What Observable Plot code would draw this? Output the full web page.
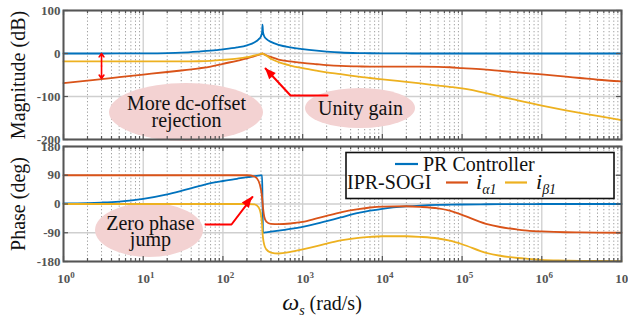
<!DOCTYPE html>
<html><head><meta charset="utf-8">
<script src="https://cdn.jsdelivr.net/npm/d3@7"></script>
<script src="https://cdn.jsdelivr.net/npm/@observablehq/plot@0.6"></script>
<style>
body{margin:0;background:#fff;}
#chart svg{display:block;font-family:'Liberation Serif','Times New Roman',serif;}
#chart svg text, #chart svg tspan{font-family:'Liberation Serif','Times New Roman',serif !important;}
</style></head><body><div id="chart"></div>
<script>
// ---------- data ----------
const freq = [1,2,3,5, 10,20,30,50,70, 100,150,200,250,280,300,310,314,318,330,350,400,500,700,
  1000,1500,2000,3000,5000,7000, 1e4,2e4,3e4,5e4,7e4, 1e5,2e5,3e5,5e5,7e5, 1e6,2e6,3e6,5e6, 1e7];

const magPR = [0,0,0,0.1, 0.3,1,2,4.5,6.5, 9.5,14,19,26,33,40,50,67,50,40,34,27,20,14,
  10,6.5,4.5,2.3,1,0.6, 0.3,0.1,0,0,0, 0,0,0,0,0, 0,0,0,0, 0];
const magA = [-69,-63,-59.5,-55, -49,-43,-39.5,-34.5,-30.5, -24,-17,-11.5,-6,-3.5,-1.5,-0.5,0,-0.7,-2,-4,-8,-14,-18.5,
  -22,-25,-27,-29,-30,-30.5, -30.5,-30.5,-30.5,-31,-32, -34,-37.5,-40.5,-44,-46, -48.5,-54,-57,-61, -65];
const magB = [-18.5,-18.5,-18.5,-18.5, -18.5,-18.5,-18.5,-18,-17, -15,-12,-8.5,-4.5,-2.5,-1,-0.3,0,-0.8,-2.5,-5,-12,-20,-28,
  -34,-40,-44,-48,-54,-57, -60,-66,-69.5,-74.5,-77.5, -81,-92,-100,-109,-115, -121,-132,-138,-145, -155];

const phPR = [1.5,3,4.6,7.7, 16,30,41,56,65, 72,79,84,87,88.5,89.4,89.8,0,-89.8,-89.3,-88.5,-86.7,-83.5,-78,
  -71.3,-61.7,-53.7,-42,-28,-21, -15,-7.6,-5,-3,-2.2, -1.5,-0.8,-0.5,-0.3,-0.2, 0,0,0,0, 0];
const phA = [90,90,90,90, 90,90,90,90,90, 90,90,90,86,72,45,20,5,-10,-40,-55,-62,-63,-61,
  -56,-45,-37,-26,-16,-11, -8,-7,-9,-14,-21, -34,-62,-72,-80,-84, -86,-88.5,-89,-89.5, -90];
const phB = [0,0,0,0, 0,0,0,0,0, 0,0,0,-1,-10,-35,-65,-90,-105,-128,-142,-152,-155,-150,
  -142,-132,-124,-114,-106,-103, -101,-101,-103,-108,-115, -126,-153,-162,-169,-172, -175,-177,-178,-178.5, -179];

const seriesNames = ["PR Controller", "i\u03b11", "i\u03b21"];
const colors = ["#0072BD", "#D95319", "#EDB120"];

const decades = [1,10,100,1e3,1e4,1e5,1e6,1e7];
const magTicks = [-200,-100,0,100];
const phaseTicks = [-180,-90,0,90,180];

// ---------- helpers ----------
const serif = "Liberation Serif, Times New Roman, serif";
const minors = [];
for (let d = 0; d < 7; d++) for (let m = 2; m <= 9; m++) minors.push(m * 10 ** d);
const rows = ys => freq.map((f, i) => ({f, v: ys[i]}));
const W = 628, ML = 63, MR = 7;
const frameW = W - ML - MR;

function baseMarks(yTicks, series) {
  return [
    Plot.ruleX(minors, {x: d => d, stroke: "#a0a0a0", strokeWidth: 1, strokeDasharray: "1.3,2.2"}),
    Plot.ruleX(decades, {x: d => d, stroke: "#cfcfcf", strokeWidth: 1.3}),
    Plot.ruleY(yTicks, {y: d => d, stroke: "#cfcfcf", strokeWidth: 1.3}),
    ...series.map((ys, k) => Plot.line(rows(ys), {x: "f", y: "v", stroke: colors[k], strokeWidth: 1.8, curve: "monotone-x"}))
  ];
}
function frameMarks(yTicks, frameH) {
  const tk = {stroke: "#555", strokeWidth: 1.2};
  return [
    Plot.tickX(decades, {x: d => d, insetBottom: frameH - 5, ...tk}),
    Plot.tickX(decades, {x: d => d, insetTop: frameH - 5, ...tk}),
    Plot.tickX(minors, {x: d => d, insetBottom: frameH - 3, ...tk}),
    Plot.tickX(minors, {x: d => d, insetTop: frameH - 3, ...tk}),
    Plot.tickY(yTicks, {y: d => d, insetRight: frameW - 5, ...tk}),
    Plot.tickY(yTicks, {y: d => d, insetLeft: frameW - 5, ...tk}),
    Plot.frame({stroke: "#555", strokeWidth: 2}),
    Plot.axisY({ticks: yTicks, tickSize: 0, tickPadding: 3, tickFormat: d => String(d),
      fontSize: 13, fontWeight: "bold", fontFamily: serif, color: "#555", label: null})
  ];
}
function setFont(plot) {
  plot.setAttribute("font-family", serif);
  plot.style.setProperty("font-family", serif);
}
function addEllipses(plot, list) {
  const sx = plot.scale("x"), sy = plot.scale("y");
  const before = plot.querySelector('g[aria-label="line"]');
  const g = document.createElementNS("http://www.w3.org/2000/svg", "g");
  plot.insertBefore(g, before);
  for (const e of list) d3.select(g).append("ellipse")
    .attr("cx", sx.apply(e.x)).attr("cy", sy.apply(e.y))
    .attr("rx", e.rx).attr("ry", e.ry).attr("fill", "#f3d2d2");
}
function addHead(plot, from, to) {
  const sx = plot.scale("x"), sy = plot.scale("y");
  const x1 = sx.apply(from[0]), y1 = sy.apply(from[1]);
  const x2 = sx.apply(to[0]), y2 = sy.apply(to[1]);
  const L = Math.hypot(x2 - x1, y2 - y1), ux = (x2 - x1) / L, uy = (y2 - y1) / L;
  const len = 11, hw = 4.5;
  const bx = x2 - ux * len, by = y2 - uy * len;
  d3.select(plot).append("polygon")
    .attr("points", [[x2, y2], [bx - uy * hw, by + ux * hw], [bx + uy * hw, by - ux * hw]].map(p => p.join(",")).join(" "))
    .attr("fill", "red");
}

// ---------- annotations (data coordinates) ----------
const unityPath = [[2053, -97.7], [705, -97.7], [342, -35]];
const zeroPath = [[60.5, -64.2], [128, -64.2], [235, 22]];
const dcArrows = [{x: 3, y1: -29, y2: 0}, {x: 3, y1: -29, y2: -58}];
const txt = {fontSize: 20, fontFamily: serif, fill: "#111"};

// ---------- top: magnitude ----------
const topH = 142, topMT = 10, topMB = 3, topFH = topH - topMT - topMB;
const magPlot = Plot.plot({
  width: W, height: topH, marginLeft: ML, marginRight: MR, marginTop: topMT, marginBottom: topMB,
  style: {background: "white", overflow: "visible"},
  x: {type: "log", domain: [1, 1e7], axis: null},
  y: {domain: [-200, 100]},
  marks: [
    ...baseMarks(magTicks, [magPR, magA, magB]),
    Plot.text([{x: 34.9, y: -139.5, t: "More dc-offset\nrejection"}, {x: 5322, y: -129.3, t: "Unity gain"}],
      {x: "x", y: "y", text: "t", lineHeight: 0.85, ...txt}),
    Plot.line(unityPath, {x: d => d[0], y: d => d[1], stroke: "red", strokeWidth: 2}),
    Plot.arrow(dcArrows, {x1: "x", x2: "x", y1: "y1", y2: "y2", stroke: "red", strokeWidth: 1.6, headLength: 7, headAngle: 70}),
    ...frameMarks(magTicks, topFH),
    Plot.text(["Magnitude (dB)"], {text: d => d, frameAnchor: "left", textAnchor: "middle", dx: -45, rotate: -90, ...txt})
  ]
});
setFont(magPlot);
addEllipses(magPlot, [{x: 34.9, y: -137.2, rx: 77, ry: 29}, {x: 5322, y: -127.9, rx: 55, ry: 20}]);
addHead(magPlot, unityPath[1], unityPath[2]);

// ---------- bottom: phase ----------
const botH = 178, botMT = 4, botMB = 59, botFH = botH - botMT - botMB;
const phasePlot = Plot.plot({
  width: W, height: botH, marginLeft: ML, marginRight: MR, marginTop: botMT, marginBottom: botMB,
  style: {background: "white", overflow: "visible"},
  x: {type: "log", domain: [1, 1e7]},
  y: {domain: [-180, 180]},
  marks: [
    ...baseMarks(phaseTicks, [phPR, phA, phB]),
    Plot.text([{x: 12.3, y: -89.2, t: "Zero phase\njump"}],
      {x: "x", y: "y", text: "t", lineHeight: 0.8, ...txt}),
    Plot.line(zeroPath, {x: d => d[0], y: d => d[1], stroke: "red", strokeWidth: 2}),
    ...frameMarks(phaseTicks, botFH),
    Plot.axisX({ticks: decades, tickSize: 0, tickPadding: 12, tickFormat: d => String(Math.round(Math.log10(d))),
      fontSize: 13, fontWeight: "bold", fontFamily: serif, color: "#555", label: null}),
    Plot.text(["Phase (deg)"], {text: d => d, frameAnchor: "left", textAnchor: "middle", dx: -45, rotate: -90, ...txt})
  ]
});
setFont(phasePlot);
addEllipses(phasePlot, [{x: 12, y: -82.9, rx: 54, ry: 27}]);
addHead(phasePlot, zeroPath[1], zeroPath[2]);

// superscript exponents on x tick labels ("10" centred on the tick)
d3.select(phasePlot).selectAll('g[aria-label="x-axis tick label"] text').each(function () {
  const e = this.textContent;
  const t = d3.select(this);
  t.text(null);
  t.attr("dx", 2.5);
  t.append("tspan").text("10");
  t.append("tspan").attr("dy", "-0.55em").attr("font-size", "9px").text(e);
});

// x-axis title
{
  const t = d3.select(phasePlot).append("text").attr("x", 322).attr("y", 168)
    .attr("text-anchor", "middle").attr("font-family", serif).attr("fill", "#111").attr("font-size", 20);
  t.append("tspan").attr("font-style", "italic").attr("font-size", 24).text("\u03c9");
  t.append("tspan").attr("font-style", "italic").attr("font-size", 14).attr("dy", 5).text("s");
  t.append("tspan").attr("dy", -5).text(" (rad/s)");
}

// legend
{
  const lg = d3.select(phasePlot).append("g").attr("font-family", serif).attr("font-size", 20)
    .attr("fill", "#111").attr("text-anchor", "start");
  lg.append("rect").attr("x", 346).attr("y", 10.5).attr("width", 268).attr("height", 46)
    .attr("fill", "white").attr("stroke", "#111").attr("stroke-width", 1.6);
  const sample = (x1, x2, y, c) => lg.append("line").attr("x1", x1).attr("x2", x2).attr("y1", y).attr("y2", y)
    .attr("stroke", c).attr("stroke-width", 2.2);
  sample(395, 418, 22, colors[0]);
  lg.append("text").attr("x", 423).attr("y", 29).text(seriesNames[0]);
  lg.append("text").attr("x", 347).attr("y", 47).text("IPR-SOGI");
  sample(446, 468, 40.5, colors[1]);
  const sub = (x, name) => {
    const t = lg.append("text").attr("x", x).attr("y", 47);
    t.append("tspan").attr("font-style", "italic").attr("font-size", 22).text(name[0]);
    t.append("tspan").attr("font-size", 14).attr("dy", 5).attr("font-style", "italic").text(name.slice(1));
  };
  sub(476, seriesNames[1]);
  sample(505, 527, 40.5, colors[2]);
  sub(536, seriesNames[2]);
}

document.getElementById("chart").append(magPlot, phasePlot);
</script>
</body></html>
